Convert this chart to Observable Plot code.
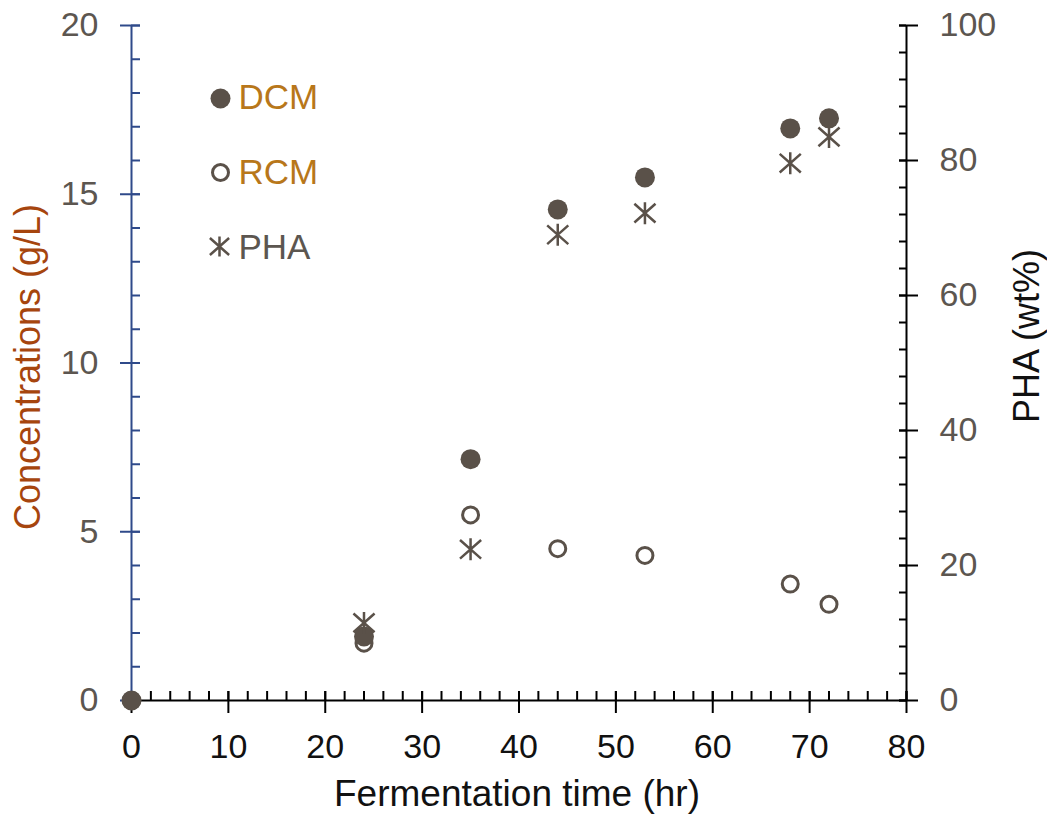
<!DOCTYPE html>
<html>
<head>
<meta charset="utf-8">
<script src="https://cdn.jsdelivr.net/npm/d3@7"></script>
<script src="https://cdn.jsdelivr.net/npm/@observablehq/plot@0.6"></script>
<style>
  html, body { margin: 0; padding: 0; background: #fff; }
  #chart svg { display: block; }
</style>
</head>
<body>
<div id="chart"></div>
<script>
// ---- data ----
const time = [0, 24, 35, 44, 53, 68, 72];
const dcm = [0, 1.9, 7.15, 14.55, 15.5, 16.95, 17.25];
const rcm = [0, 1.7, 5.5, 4.5, 4.3, 3.45, 2.85];
const phaTime = [24, 35, 44, 53, 68, 72];
const pha = [11.5, 22.4, 69.0, 72.2, 79.6, 83.5];

const xTicks = [0, 10, 20, 30, 40, 50, 60, 70, 80];
const xMinor = d3.range(0, 81, 2);
const leftTicks = [0, 5, 10, 15, 20];
const leftMinor = d3.range(0, 21, 1);
const rightTicks = [0, 20, 40, 60, 80, 100];
const rightMinor = d3.range(0, 101, 4);
const legendLabels = ["DCM", "RCM", "PHA"];

const xTitle = "Fermentation time (hr)";
const yTitle = "Concentrations (g/L)";
const y2Title = "PHA (wt%)";

// ---- layout / styles ----
const W = 1047, H = 817;
const mL = 131, mR = 141, mT = 25, mB = 117;
const fw = W - mL - mR, fh = H - mT - mB;

const markColor = "#5a5149";
const blue = "#2f4a8a";
const gray = "#5c5650";
const gold = "#b8771a";
const rust = "#a6450e";
const font = "'Liberation Sans', Arial, sans-serif";

// right axis (wt%) mapped onto left scale (0-20)
const toLeft = v => v / 5;

const star = {
  draw(ctx, size) {
    const r = Math.sqrt(size / Math.PI);
    const a = r * 0.96, b = r * 0.85;
    ctx.moveTo(0, -r); ctx.lineTo(0, r);
    ctx.moveTo(-a, -b); ctx.lineTo(a, b);
    ctx.moveTo(-a, b); ctx.lineTo(a, -b);
  }
};

const textOnly = (o) => ({ tickSize: 0, label: null, fontSize: 34, ...o });

const chart = Plot.plot({
  width: W,
  height: H,
  marginLeft: mL,
  marginRight: mR,
  marginTop: mT,
  marginBottom: mB,
  style: { fontFamily: font, background: "#fff", overflow: "visible" },
  x: { domain: [0, 80] },
  y: { domain: [0, 20] },
  marks: [
    // left axis (blue)
    Plot.ruleX([0], { stroke: blue, strokeWidth: 2 }),
    Plot.tickY(leftMinor, { y: d => d, insetRight: fw - 9, stroke: blue, strokeWidth: 2 }),
    Plot.tickY(leftTicks, { y: d => d, insetLeft: -11, insetRight: fw - 9, stroke: blue, strokeWidth: 2 }),
    Plot.axisY(textOnly({ ticks: leftTicks, anchor: "left", tickPadding: 33, fill: gray })),

    // right axis (black)
    Plot.ruleX([80], { stroke: "#000", strokeWidth: 2 }),
    Plot.tickY(rightMinor, { y: d => toLeft(d), insetLeft: fw - 7, stroke: "#000", strokeWidth: 2 }),
    Plot.tickY(rightTicks, { y: d => toLeft(d), insetLeft: fw - 7, insetRight: -12, stroke: "#000", strokeWidth: 2 }),
    Plot.axisY(textOnly({ ticks: rightTicks.map(toLeft), anchor: "right", tickPadding: 33, fill: gray, tickFormat: d => Math.round(d * 5) })),

    // x axis (black)
    Plot.ruleY([0], { stroke: "#000", strokeWidth: 2 }),
    Plot.tickX(xMinor, { x: d => d, insetTop: fh - 9, stroke: "#000", strokeWidth: 2 }),
    Plot.tickX(xTicks, { x: d => d, insetTop: fh - 9, insetBottom: -13, stroke: "#000", strokeWidth: 2 }),
    Plot.axisX(textOnly({ ticks: xTicks, anchor: "bottom", tickPadding: 33, fill: "#111" })),

    // axis titles
    Plot.text([xTitle], { text: d => d, frameAnchor: "bottom", textAnchor: "middle", lineAnchor: "middle", dx: -2, dy: 94, fontSize: 37, fill: "#111" }),
    Plot.text([yTitle], { text: d => d, frameAnchor: "left", textAnchor: "middle", lineAnchor: "middle", dx: -103, dy: 4, rotate: -90, fontSize: 36, fill: rust }),
    Plot.text([y2Title], { text: d => d, frameAnchor: "right", textAnchor: "middle", lineAnchor: "middle", dx: 121, dy: -27, rotate: -90, fontSize: 36, fill: "#111" }),

    // data
    Plot.dot(rcm, { x: time, y: rcm, r: 8, fill: "none", stroke: markColor, strokeWidth: 3 }),
    Plot.dot(dcm, { x: time, y: dcm, r: 10, fill: markColor, stroke: "none" }),
    Plot.dot(pha, { x: phaTime, y: pha.map(toLeft), symbol: star, r: 11, fill: "none", stroke: markColor, strokeWidth: 2.5 }),

    // legend
    Plot.dot([legendLabels[0]], { frameAnchor: "top-left", dx: 89, dy: 73, r: 10, fill: markColor, stroke: "none" }),
    Plot.dot([legendLabels[1]], { frameAnchor: "top-left", dx: 89, dy: 147, r: 8, fill: "none", stroke: markColor, strokeWidth: 3 }),
    Plot.dot([legendLabels[2]], { frameAnchor: "top-left", dx: 88, dy: 221, symbol: star, r: 10, fill: "none", stroke: markColor, strokeWidth: 2.5 }),
    Plot.text([legendLabels[0]], { text: d => d, frameAnchor: "top-left", lineAnchor: "middle", dx: 107, dy: 72, textAnchor: "start", fontSize: 35, fill: gold }),
    Plot.text([legendLabels[1]], { text: d => d, frameAnchor: "top-left", lineAnchor: "middle", dx: 107, dy: 147, textAnchor: "start", fontSize: 35, fill: gold }),
    Plot.text([legendLabels[2]], { text: d => d, frameAnchor: "top-left", lineAnchor: "middle", dx: 107, dy: 222, textAnchor: "start", fontSize: 35, fill: gray })
  ]
});

document.getElementById("chart").appendChild(chart);
</script>
</body>
</html>
